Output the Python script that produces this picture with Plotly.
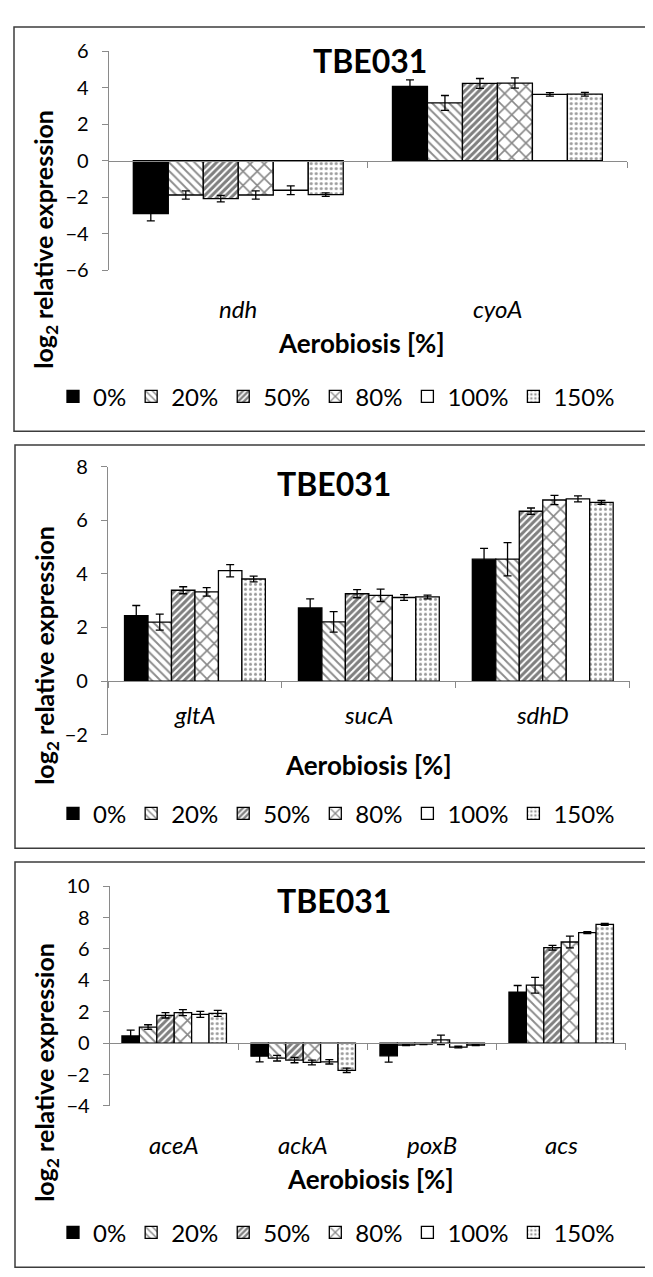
import plotly.graph_objects as go

W, H = 653, 1277

series = ["0%", "20%", "50%", "80%", "100%", "150%"]

genes1 = ["ndh", "cyoA"]
vals1 = {
    "0%":   [-2.90, 4.07],
    "20%":  [-1.88, 3.16],
    "50%":  [-2.08, 4.23],
    "80%":  [-1.88, 4.25],
    "100%": [-1.62, 3.63],
    "150%": [-1.86, 3.64],
}
errs1 = {
    "0%":   [0.40, 0.36],
    "20%":  [0.23, 0.41],
    "50%":  [0.18, 0.27],
    "80%":  [0.23, 0.28],
    "100%": [0.24, 0.10],
    "150%": [0.10, 0.10],
}

genes2 = ["gltA", "sucA", "sdhD"]
vals2 = {
    "0%":   [2.44, 2.73, 4.55],
    "20%":  [2.20, 2.21, 4.55],
    "50%":  [3.39, 3.26, 6.34],
    "80%":  [3.33, 3.20, 6.76],
    "100%": [4.12, 3.12, 6.80],
    "150%": [3.81, 3.14, 6.67],
}
errs2 = {
    "0%":   [0.38, 0.34, 0.40],
    "20%":  [0.30, 0.38, 0.62],
    "50%":  [0.13, 0.15, 0.12],
    "80%":  [0.16, 0.23, 0.17],
    "100%": [0.23, 0.11, 0.11],
    "150%": [0.11, 0.07, 0.07],
}

genes3 = ["aceA", "ackA", "poxB", "acs"]
vals3 = {
    "0%":   [0.46, -0.83, -0.81, 3.25],
    "20%":  [1.02, -0.96, -0.12, 3.69],
    "50%":  [1.77, -1.08, -0.06, 6.08],
    "80%":  [1.94, -1.23, 0.21, 6.44],
    "100%": [1.83, -1.19, -0.25, 7.04],
    "150%": [1.90, -1.73, -0.12, 7.56],
}
errs3 = {
    "0%":   [0.37, 0.36, 0.40, 0.42],
    "20%":  [0.15, 0.18, 0.03, 0.50],
    "50%":  [0.17, 0.17, 0.03, 0.15],
    "80%":  [0.19, 0.15, 0.30, 0.37],
    "100%": [0.19, 0.14, 0.05, 0.06],
    "150%": [0.19, 0.14, 0.04, 0.06],
}

y_ranges = [[-6, 6], [-2, 8], [-4, 10]]

FONT = "Lato"
AXC = "#8a8a8a"

styles = {
    "0%":   dict(color="black", pattern=dict(shape="")),
    "20%":  dict(color="white", pattern=dict(shape="\\", size=6, solidity=0.32, fgcolor="#1a1a1a")),
    "50%":  dict(color="white", pattern=dict(shape="/", size=5, solidity=0.6, fgcolor="#000000")),
    "80%":  dict(color="white", pattern=dict(shape="x", size=10, solidity=0.3, fgcolor="#111111")),
    "100%": dict(color="white", pattern=dict(shape="")),
    "150%": dict(color="white", pattern=dict(shape=".", size=5, solidity=0.3, fgcolor="#333333")),
}

panels = [
    dict(genes=genes1, vals=vals1, errs=errs1, xpx=(100.7, 619), ypx=(30.7, 254),
         title=(362, 40), xtitle=(353, 328), ytitle=(37, 223), legy=383, labc=293,
         box=(6, 6, 646, 418)),
    dict(genes=genes2, vals=vals2, errs=errs2, xpx=(100, 621.7), ypx=(454.3, 727.3),
         title=(326, 471.7), xtitle=(360, 758), ytitle=(38, 647), legy=808, labc=706.7,
         box=(7, 432, 646, 843)),
    dict(genes=genes3, vals=vals3, errs=errs3, xpx=(101.7, 617.7), ypx=(881.7, 1105.7),
         title=(326, 896.7), xtitle=(362.7, 1180), ytitle=(38, 1072), legy=1235, labc=1145,
         box=(7, 857, 645, 1270)),
]

fig = go.Figure()
annotations = []
shapes = []
layout = {}

for i, p in enumerate(panels):
    n = i + 1
    xs = "" if n == 1 else str(n)
    legname = "legend" if n == 1 else f"legend{n}"
    for s in series:
        st = styles[s]
        fig.add_trace(go.Bar(
            x=p["genes"], y=p["vals"][s], name=s,
            xaxis=f"x{xs}", yaxis=f"y{xs}",
            legend=legname,
            marker=dict(color=st["color"], pattern=st["pattern"],
                        line=dict(color="black", width=1.3)),
            error_y=dict(type="data", array=p["errs"][s], color="black",
                         thickness=1.3, width=4),
        ))
    x0, x1 = p["xpx"]
    ytop, ybot = p["ypx"]
    ydom = [1 - ybot / H, 1 - ytop / H]
    r0, r1 = y_ranges[i]
    zero_frac = ydom[0] + (0 - r0) / (r1 - r0) * (ydom[1] - ydom[0])
    layout[f"xaxis{xs}"] = dict(
        domain=[x0 / W, x1 / W], anchor="free", position=zero_frac,
        type="category", showline=True, linecolor=AXC, linewidth=1.2,
        ticks="outside", tickson="boundaries", ticklen=6, tickcolor=AXC, tickwidth=1.2,
        showgrid=False, zeroline=False, showticklabels=False,
        fixedrange=True,
    )
    layout[f"yaxis{xs}"] = dict(
        domain=ydom, anchor=f"x{xs}", range=[r0, r1], dtick=2, tick0=0,
        showline=True, linecolor=AXC, linewidth=1.2,
        ticks="outside", ticklen=6, tickcolor=AXC, tickwidth=1.2,
        showgrid=False, zeroline=False, ticklabelstandoff=9,
        tickfont=dict(family=FONT, size=20, color="black"),
    )
    layout[legname] = dict(
        orientation="h", x=45 / W, xanchor="left", y=1 - p["legy"] / H, yanchor="middle",
        font=dict(family=FONT, size=24, color="black"), bgcolor="rgba(0,0,0,0)",
        itemwidth=30, traceorder="normal",
    )
    for g in p["genes"]:
        annotations.append(dict(text=g, x=g, xref=f"x{xs}", y=1 - p["labc"] / H, yref="paper",
                                xanchor="center", yanchor="middle", showarrow=False,
                                font=dict(family=FONT, size=24, color="black", style="italic")))
    tx, ty = p["title"]
    annotations.append(dict(text="<b>TBE031</b>", x=tx / W, y=1 - ty / H, xref="paper", yref="paper",
                            xanchor="center", yanchor="middle", showarrow=False,
                            font=dict(family=FONT, size=32, color="black")))
    ax_, ay_ = p["xtitle"]
    annotations.append(dict(text="<b>Aerobiosis [%]</b>", x=ax_ / W, y=1 - ay_ / H, xref="paper", yref="paper",
                            xanchor="center", yanchor="middle", showarrow=False,
                            font=dict(family=FONT, size=26, color="black")))
    yx, yy = p["ytitle"]
    annotations.append(dict(text="<b>log<sub>2</sub> relative expression</b>", x=yx / W, y=1 - yy / H,
                            xref="paper", yref="paper", xanchor="center", yanchor="middle",
                            textangle=-90, showarrow=False,
                            font=dict(family=FONT, size=25, color="black")))
    bx0, by0, bx1, by1 = p["box"]
    shapes.append(dict(type="rect", xref="paper", yref="paper",
                       x0=bx0 / W, x1=bx1 / W, y0=1 - by1 / H, y1=1 - by0 / H,
                       line=dict(color="#3c3c3c", width=1.5), fillcolor="rgba(0,0,0,0)"))

fig.update_layout(
    width=W, height=H, margin=dict(l=0, r=0, t=0, b=0),
    paper_bgcolor="white", plot_bgcolor="white",
    barmode="group", bargap=0.19, bargroupgap=0,
    annotations=annotations, shapes=shapes,
    font=dict(family=FONT, color="black"),
    **layout,
)

fig.write_html("out.html")
